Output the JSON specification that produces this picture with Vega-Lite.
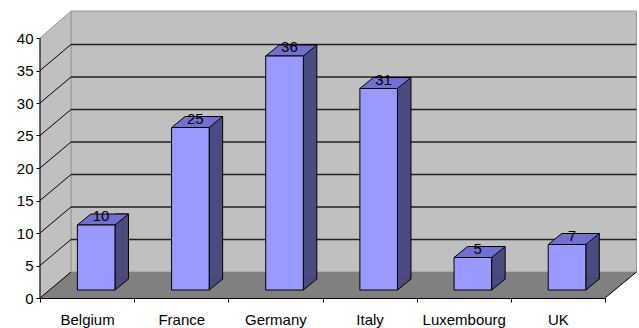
{
  "$schema": "https://vega.github.io/schema/vega-lite/v6.json",
  "autosize": {"type": "none"},
  "width": 565,
  "height": 286,
  "padding": {"left": 40, "top": 12, "right": 34, "bottom": 30},
  "background": "white",
  "config": {
    "view": {"stroke": null},
    "font": "Liberation Sans",
    "axisX": {"tickBand": "extent", "domainColor": "black", "domainWidth": 1, "tickColor": "black", "tickSize": 4, "labelPadding": 10, "labelFontSize": 15, "labelColor": "black", "labelAngle": 0, "grid": false, "labelFont": "Liberation Sans", "labelOverlap": false},
    "axisY": {"domain": false, "tickColor": "black", "tickSize": 4, "labelPadding": 3, "labelFontSize": 15, "labelColor": "black", "grid": false, "labelFont": "Liberation Sans"}
  },
  "datasets": {
    "bars": [
      {"country": "Belgium", "value": 10},
      {"country": "France", "value": 25},
      {"country": "Germany", "value": 36},
      {"country": "Italy", "value": 31},
      {"country": "Luxembourg", "value": 5},
      {"country": "UK", "value": 7}
    ],
    "one": [{"k": 0}],
    "grid": [{"v": 5}, {"v": 10}, {"v": 15}, {"v": 20}, {"v": 25}, {"v": 30}, {"v": 35}],
    "ticks": [{"v": 0}, {"v": 5}, {"v": 10}, {"v": 15}, {"v": 20}, {"v": 25}, {"v": 30}, {"v": 35}]
  },
  "layer": [
    {
      "data": {"name": "one"},
      "mark": {"type": "point", "shape": "M-16.08,-26 L549.4,-26 L549.4,-287 L-16.08,-287 Z", "size": 4, "filled": true, "fill": "#C0C0C0", "stroke": "#999999", "strokeWidth": 1, "opacity": 1},
      "encoding": {"x": {"datum": "Belgium", "type": "nominal"}, "y": {"datum": 0, "type": "quantitative"}}
    },
    {
      "data": {"name": "one"},
      "mark": {"type": "point", "shape": "M-47.08,0 L-47.08,-260 L-16.08,-287 L-16.08,-26 Z", "size": 4, "filled": true, "fill": "#C0C0C0", "stroke": "#999999", "strokeWidth": 1, "opacity": 1},
      "encoding": {"x": {"datum": "Belgium", "type": "nominal"}, "y": {"datum": 0, "type": "quantitative"}}
    },
    {
      "data": {"name": "one"},
      "mark": {"type": "point", "shape": "M-47.08,0 L517.92,0 L549.4,-26 L-16.08,-26 Z", "size": 4, "filled": true, "fill": "#808080", "strokeWidth": 0, "opacity": 1},
      "encoding": {"x": {"datum": "Belgium", "type": "nominal"}, "y": {"datum": 0, "type": "quantitative"}}
    },
    {
      "data": {"name": "grid"},
      "mark": {"type": "point", "shape": "M-16.08,-26 L549.4,-26", "size": 4, "filled": false, "fillOpacity": 0, "stroke": "#222222", "strokeWidth": 1.3, "opacity": 1},
      "encoding": {"x": {"datum": "Belgium", "type": "nominal"}, "y": {"field": "v", "type": "quantitative", "title": null}}
    },
    {
      "data": {"name": "ticks"},
      "mark": {"type": "point", "shape": "M-47.08,0 L-16.08,-26", "size": 4, "filled": false, "fillOpacity": 0, "stroke": "#000000", "strokeWidth": 1, "opacity": 1},
      "encoding": {"x": {"datum": "Belgium", "type": "nominal"}, "y": {"field": "v", "type": "quantitative", "title": null}}
    },
    {
      "data": {"name": "one"},
      "mark": {"type": "point", "shape": "M517.92,0 L549.4,-26 M-47.08,0 L-47.08,-260", "size": 4, "filled": false, "fillOpacity": 0, "stroke": "#000000", "strokeWidth": 1, "opacity": 1},
      "encoding": {"x": {"datum": "Belgium", "type": "nominal"}, "y": {"datum": 0, "type": "quantitative"}}
    },
    {
      "data": {"name": "bars"},
      "mark": {"type": "bar", "size": 13.5, "xOffset": 34.65, "yOffset": -19, "y2Offset": -19, "fill": "#4B4B82", "stroke": "#000000", "strokeWidth": 1},
      "encoding": {"x": {"field": "country", "type": "nominal", "title": null}, "y": {"field": "value", "type": "quantitative", "title": null}}
    },
    {
      "data": {"name": "bars"},
      "mark": {"type": "point", "shape": "M41.4,-19.7 L41.4,-19 L27.9,-8 L27.9,-19.7", "size": 4, "filled": true, "fill": "#4B4B82", "stroke": "#000000", "strokeWidth": 1, "opacity": 1},
      "encoding": {"x": {"field": "country", "type": "nominal", "title": null}, "y": {"datum": 0, "type": "quantitative"}}
    },
    {
      "data": {"name": "bars"},
      "mark": {"type": "point", "shape": "M-9.7,-8 L27.9,-8 L41.4,-19 L3.8,-19 Z", "size": 4, "filled": true, "fill": "#7070D0", "stroke": "#000000", "strokeWidth": 1, "opacity": 1},
      "encoding": {"x": {"field": "country", "type": "nominal", "title": null}, "y": {"field": "value", "type": "quantitative", "title": null}}
    },
    {
      "data": {"name": "bars"},
      "mark": {"type": "bar", "size": 37.6, "xOffset": 9.1, "yOffset": -8, "y2Offset": -8, "fill": "#9999FF", "stroke": "#000000", "strokeWidth": 1},
      "encoding": {
        "x": {"field": "country", "type": "nominal", "title": null, "sort": null, "scale": {"paddingInner": 0, "paddingOuter": 0}, "axis": {"orient": "bottom"}},
        "y": {"field": "value", "type": "quantitative", "title": null, "scale": {"domain": [0, 44], "nice": false}, "axis": {"values": [0, 5, 10, 15, 20, 25, 30, 35, 40], "tickCount": 9, "labelOverlap": false, "labelFlush": false, "labelBound": false, "format": "d"}}
      }
    },
    {
      "data": {"name": "bars"},
      "mark": {"type": "text", "dx": 14, "dy": -12, "baseline": "alphabetic", "align": "center", "fontSize": 15, "font": "Liberation Sans", "color": "#000000"},
      "encoding": {"x": {"field": "country", "type": "nominal", "title": null}, "y": {"field": "value", "type": "quantitative", "title": null}, "text": {"field": "value", "type": "quantitative"}}
    }
  ]
}
